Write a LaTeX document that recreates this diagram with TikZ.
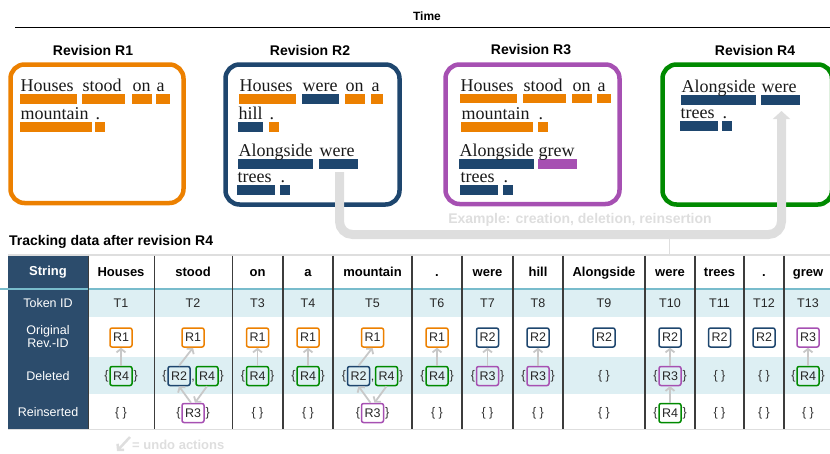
\documentclass[tikz,border=0pt]{standalone}
\usepackage{fontspec}
\setmainfont{Liberation Sans}
\newfontfamily\revserif{Liberation Serif}
\usetikzlibrary{arrows.meta}
\definecolor{rorange}{RGB}{236,128,0}
\definecolor{rblue}{RGB}{30,70,110}
\definecolor{rpurple}{RGB}{166,80,178}
\definecolor{rgreen}{RGB}{0,138,0}
\definecolor{tabdark}{RGB}{44,76,108}
\definecolor{rowblue}{RGB}{221,239,243}
\definecolor{tealline}{RGB}{120,188,204}
\definecolor{lightgrey}{RGB}{222,222,222}
\definecolor{arrowgray}{RGB}{200,200,200}
\definecolor{gridline}{RGB}{60,60,60}
\tikzset{
  word/.style={font=\revserif\fontsize{18}{20}\selectfont, inner sep=0pt, anchor=base west, text=black!90},
  revbox/.style={line width=4.5pt, rounded corners=14pt},
  revtitle/.style={font=\bfseries\fontsize{14}{16}\selectfont, inner sep=0pt},
  tab/.style={font=\fontsize{12.5}{14}\selectfont, text=black!85, inner sep=0pt},
  head/.style={font=\bfseries\fontsize{13}{15}\selectfont, inner sep=0pt, text=black},
  lefthead/.style={font=\fontsize{12.5}{14}\selectfont, text=white, align=center, inner sep=0pt},
  rid/.style={draw=#1, line width=1.5pt, rounded corners=2pt, minimum width=22pt, minimum height=19pt, inner sep=0pt, font=\fontsize{12.5}{14}\selectfont, text=black!85},
  brace/.style={inner sep=0.6pt, font=\fontsize{12.5}{14}\selectfont, text=black!80},
  undo/.style={draw=arrowgray, line width=1.8pt, -{Straight Barb[length=3.5pt,width=9pt]}},
}
\newcommand{\wbar}[6]{%
  \fill[#5] (#2,#4) rectangle (#3,{#4+9.5});
  \node[word] (#1) at ({#2+0.5},{#4-2.5}) {#6};}
\newcommand{\single}[5]{%
  \node[rid=#4] (#1) at (#2,#3) {#5};
  \node[brace, anchor=east] (#1l) at (#1.west) {\{};
  \node[brace, anchor=west] (#1r) at (#1.east) {\}};}
\newcommand{\pair}[8]{%
  \node[rid=#5] (#1) at ({#3-14},#4) {#6};
  \node[rid=#7] (#2) at ({#3+14},#4) {#8};
  \node[brace, anchor=east] (#1l) at (#1.west) {\{};
  \node[brace, anchor=base] (#1c) at (#3,{#4+4.5}) {,};
  \node[brace, anchor=west] (#2r) at (#2.east) {\}};}
\newcommand{\emptycell}[3]{\node[brace] (#1) at (#2,#3) {\{ \}};}
\begin{document}
\begin{tikzpicture}[x=1pt,y=-1pt]
\useasboundingbox (0,0) rectangle (830,453);
% time axis
\node[font=\bfseries\fontsize{12}{14}\selectfont, inner sep=0pt] (time) at (427,16) {Time};
\coordinate (tl0) at (15,27.5);
\coordinate (tl1) at (830,27.5);
\draw[line width=1.5pt] (tl0) -- (tl1);
% titles
\node[revtitle] (t1) at (93,50) {Revision R1};
\node[revtitle] (t2) at (310,50) {Revision R2};
\node[revtitle] (t3) at (531,50) {Revision R3};
\node[revtitle] (t4) at (755,50) {Revision R4};
% revision boxes
\draw[revbox, rorange] (10.5,64.5) rectangle (183.5,203);
\draw[revbox, rblue] (225.5,64.5) rectangle (399.5,204.5);
\draw[revbox, rpurple] (445.5,64.5) rectangle (619.5,204);
\begin{scope}
\clip (600,40) rectangle (830,230);
\draw[revbox, rgreen] (662.5,64.5) rectangle (832,204.5);
\end{scope}
% R1
\wbar{a1}{20}{77}{94}{rorange}{Houses}
\wbar{a2}{82}{125}{94}{rorange}{stood}
\wbar{a3}{132}{152}{94}{rorange}{on}
\wbar{a4}{156}{170}{94}{rorange}{a}
\wbar{a5}{20}{92}{122}{rorange}{mountain}
\wbar{a6}{95}{105}{122}{rorange}{.}
% R2
\wbar{b1}{239}{296}{94}{rorange}{Houses}
\wbar{b2}{302}{339}{94}{rblue}{were}
\wbar{b3}{345}{365}{94}{rorange}{on}
\wbar{b4}{371}{383}{94}{rorange}{a}
\wbar{b5}{238}{263}{122}{rblue}{hill}
\wbar{b6}{269}{279}{122}{rorange}{.}
\wbar{b7}{238}{313}{159}{rblue}{Alongside}
\wbar{b8}{319}{358}{159}{rblue}{were}
\wbar{b9}{237}{275}{185}{rblue}{trees}
\wbar{b10}{280}{290}{185}{rblue}{.}
% R3
\wbar{c1}{460}{517}{93.5}{rorange}{Houses}
\wbar{c2}{523}{566}{93.5}{rorange}{stood}
\wbar{c3}{572}{592}{93.5}{rorange}{on}
\wbar{c4}{597}{611}{93.5}{rorange}{a}
\wbar{c5}{461}{533}{122}{rorange}{mountain}
\wbar{c6}{538}{548}{122}{rorange}{.}
\wbar{c7}{459}{534}{159}{rblue}{Alongside}
\wbar{c8}{538}{577}{159}{rpurple}{grew}
\wbar{c9}{460}{498}{185}{rblue}{trees}
\wbar{c10}{503}{513}{185}{rblue}{.}
% R4
\wbar{e1}{681}{756}{95}{rblue}{Alongside}
\wbar{e2}{761}{800}{95}{rblue}{were}
\wbar{e3}{680}{718}{121}{rblue}{trees}
\wbar{e4}{722}{732}{121}{rblue}{.}
% example arrow
\coordinate (exA) at (339.5,172);
\coordinate (exB) at (781.5,111);
\coordinate (exlink) at (669,238);
\coordinate (extab) at (669,255);
\draw[lightgrey, line width=1pt] (exlink) -- (extab);
\draw[lightgrey, line width=9pt, rounded corners=13pt, -{Triangle[width=17pt,length=8pt]}] (exA) -- (339.5,234.5) -- (781.5,234.5) -- (exB);
\node[font=\bfseries\fontsize{14}{16}\selectfont, text=lightgrey, inner sep=0pt] (extext) at (580,220) {Example: creation, deletion, reinsertion};
% table title
\node[font=\bfseries\fontsize{14}{16}\selectfont, anchor=west, inner sep=0pt] (ttitle) at (9,242) {Tracking data after revision R4};
% table backgrounds
\fill[rowblue] (88,289) rectangle (830,317);
\fill[rowblue] (88,357) rectangle (830,394);
\fill[tabdark] (8,255) rectangle (88.5,429.5);
\draw[lightgrey, line width=1.5pt] (8,255) -- (830,255);
\draw[lightgrey, line width=1.5pt] (8,429.5) -- (830,429.5);
\draw[tealline, line width=2pt] (0,288.5) -- (830,288.5);
\foreach \x in {88.5,154.5,232.5,283,333,412,462,513,563,645,695,744,784}
  \draw[gridline, line width=1.2pt] (\x,255.5) -- (\x,429);
% left column labels
\node[head, text=white] (lstring) at (48,272) {String};
\node[lefthead] (ltok) at (48,303) {Token ID};
\node[lefthead] (lorig) at (48,337) {Original\\[-1pt]Rev.-ID};
\node[lefthead] (ldel) at (48,376) {Deleted};
\node[lefthead] (lrein) at (48,412) {Reinserted};
% header words
\foreach \x/\w [count=\i] in {121/Houses,193/stood,257.5/on,308/a,372.5/mountain,437/.,487.5/were,538/hill,604/Alongside,670/were,719.5/trees,764/.,808/grew}
  \node[head, anchor=base] (h\i) at (\x,276.5) {\w};
% token ids
\foreach \x [count=\i] in {121,193,257.5,308,372.5,437,487.5,538,604,670,719.5,764,808}
  \node[tab] (tok\i) at (\x,303) {T\i};
% original revision ids
\foreach \x/\c/\l [count=\i] in {121/rorange/R1,193/rorange/R1,257.5/rorange/R1,308/rorange/R1,372.5/rorange/R1,437/rorange/R1,487.5/rblue/R2,538/rblue/R2,604/rblue/R2,670/rblue/R2,719.5/rblue/R2,764/rblue/R2,808/rpurple/R3}
  \node[rid=\c] (o\i) at (\x,337.5) {\l};
% deleted
\single{d1}{121}{376}{rgreen}{R4}
\pair{d2a}{d2b}{193}{376}{rblue}{R2}{rgreen}{R4}
\single{d3}{257.5}{376}{rgreen}{R4}
\single{d4}{308}{376}{rgreen}{R4}
\pair{d5a}{d5b}{372.5}{376}{rblue}{R2}{rgreen}{R4}
\single{d6}{437}{376}{rgreen}{R4}
\single{d7}{487.5}{376}{rpurple}{R3}
\single{d8}{538}{376}{rpurple}{R3}
\emptycell{d9}{604}{376}
\single{d10}{670}{376}{rpurple}{R3}
\emptycell{d11}{719.5}{376}
\emptycell{d12}{764}{376}
\single{d13}{808}{376}{rgreen}{R4}
% reinserted
\emptycell{r1}{121}{413}
\single{r2}{193}{413}{rpurple}{R3}
\emptycell{r3}{257.5}{413}
\emptycell{r4}{308}{413}
\single{r5}{372.5}{413}{rpurple}{R3}
\emptycell{r6}{437}{413}
\emptycell{r7}{487.5}{413}
\emptycell{r8}{538}{413}
\emptycell{r9}{604}{413}
\single{r10}{670}{413}{rgreen}{R4}
\emptycell{r11}{719.5}{413}
\emptycell{r12}{764}{413}
\emptycell{r13}{808}{413}
% undo arrows
\foreach \i in {1,3,4,6,7,8,10,13}
  \draw[undo] (d\i) -- (o\i);
\draw[undo] (r10) -- (d10);
\draw[undo] (d2a.north) -- (o2.south);
\draw[undo] ([xshift=-2pt]r2.north) -- (d2a.south);
\draw[undo] (d2b.south) -- ([xshift=2pt]r2.north);
\draw[undo] (d5a.north) -- (o5.south);
\draw[undo] ([xshift=-2pt]r5.north) -- (d5a.south);
\draw[undo] (d5b.south) -- ([xshift=2pt]r5.north);
% legend
\coordinate (lgA) at (130,437);
\coordinate (lgB) at (117,451);
\draw[lightgrey, line width=2.5pt, -{Straight Barb[length=4pt,width=9pt]}] (lgA) -- (lgB);
\node[font=\bfseries\fontsize{13}{15}\selectfont, text=lightgrey, anchor=west, inner sep=0pt] (legend) at (132,445) {= undo actions};
\end{tikzpicture}
\end{document}
